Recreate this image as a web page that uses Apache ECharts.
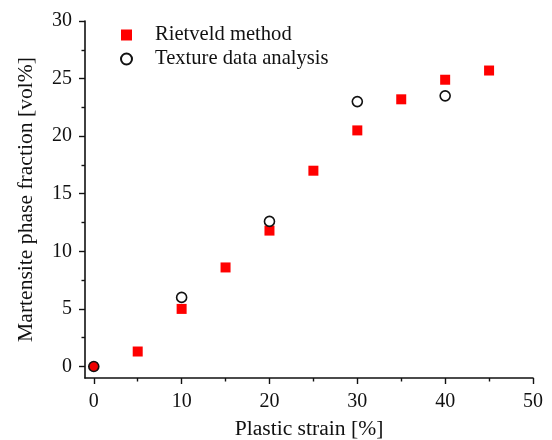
<!DOCTYPE html>
<html>
<head>
<meta charset="utf-8">
<script src="https://cdn.jsdelivr.net/npm/echarts@6/dist/echarts.min.js"></script>
<style>
  html, body { margin: 0; padding: 0; background: #fff; }
  #chart { width: 552px; height: 440px; }
</style>
</head>
<body>
<div id="chart"></div>
<script>
// Martensite phase fraction vs. plastic strain
const rietveldStrain = [0, 5, 10, 15, 20, 25, 30, 35, 40, 45];
const rietveldFraction = [0, 1.3, 5.0, 8.6, 11.8, 17.0, 20.5, 23.2, 24.9, 25.7];
const textureStrain = [0, 10, 20, 30, 40];
const textureFraction = [0, 6.0, 12.6, 23.0, 23.5];

const FONT = "'Liberation Serif', 'Times New Roman', serif";
const INK = '#111';

// Plot frame: the axis lines start one unit below zero on both axes
const X_RANGE = [-1, 50], Y_RANGE = [-1, 30];
const FRAME = { left: 85, right: 19, top: 21, bottom: 62 };
const W = 552 - FRAME.left - FRAME.right, H = 440 - FRAME.top - FRAME.bottom;
const xUnit = W / (X_RANGE[1] - X_RANGE[0]);
const yUnit = H / (Y_RANGE[1] - Y_RANGE[0]);

const chart = echarts.init(document.getElementById('chart'), null, { renderer: 'canvas' });

const noDecor = {
  axisTick: { show: false }, axisLabel: { show: false },
  splitLine: { show: false }, minorTick: { show: false }
};
const lineStyle = { color: INK, width: 1.6 };
const tickStyle = { color: INK, width: 1.4 };
const labelStyle = { fontFamily: FONT, fontSize: 20, color: INK };
const legendTextStyle = { fontFamily: FONT, fontSize: 20.6, color: INK };
const nameStyle = { fontFamily: FONT, fontSize: 21.6, color: INK };

// Scale axes: start at zero, shifted onto the frame lines
function scaleAxis(grid, min, max, step, pos, offset, margin) {
  return {
    gridIndex: grid, type: 'value', position: pos, offset: offset,
    min: min, max: max, interval: step,
    axisLine: { show: false, onZero: false },
    axisTick: { show: true, inside: false, length: 6, lineStyle: tickStyle },
    minorTick: { show: true, splitNumber: 2, length: 3.5, lineStyle: tickStyle },
    axisLabel: Object.assign({ show: true, margin: margin }, labelStyle),
    splitLine: { show: false }, minorSplitLine: { show: false }
  };
}

const pairs = (xs, ys) => xs.map((x, i) => [x, ys[i]]);

chart.setOption({
  animation: false,
  backgroundColor: '#fff',
  grid: [
    Object.assign({ outerBoundsMode: 'none' }, FRAME),
    { left: FRAME.left + xUnit, right: FRAME.right, top: FRAME.top,
      bottom: FRAME.bottom + yUnit, outerBoundsMode: 'none' }
  ],
  legend: {
    orient: 'vertical', left: 120, top: 23, padding: 0,
    itemWidth: 11, itemHeight: 11, itemGap: 0,
    textStyle: Object.assign({ lineHeight: 24, padding: [0, 0, 0, 18] }, legendTextStyle),
    data: ['Rietveld method', 'Texture data analysis']
  },
  xAxis: [
    Object.assign({
      gridIndex: 0, type: 'value', position: 'bottom', min: X_RANGE[0], max: X_RANGE[1],
      name: 'Plastic strain [%]', nameLocation: 'middle', nameGap: 40, nameTextStyle: nameStyle,
      axisLine: { show: true, onZero: false, lineStyle: lineStyle }
    }, noDecor),
    scaleAxis(1, 0, 50, 10, 'bottom', yUnit, 14)
  ],
  yAxis: [
    Object.assign({
      gridIndex: 0, type: 'value', position: 'left', min: Y_RANGE[0], max: Y_RANGE[1],
      name: 'Martensite phase fraction [vol%]', nameLocation: 'middle', nameGap: 48,
      nameTextStyle: nameStyle,
      axisLine: { show: true, onZero: false, lineStyle: lineStyle }
    }, noDecor),
    scaleAxis(1, 0, 30, 5, 'left', xUnit, 13)
  ],
  series: [
    {
      name: 'Rietveld method', type: 'scatter', xAxisIndex: 0, yAxisIndex: 0,
      symbol: 'rect', symbolSize: 10,
      itemStyle: { color: '#ff0000', opacity: 1 },
      data: pairs(rietveldStrain, rietveldFraction).map((p, i) =>
        i === 0 ? { value: p, symbolSize: 8 } : p),
      z: 2
    },
    {
      name: 'Texture data analysis', type: 'scatter', xAxisIndex: 0, yAxisIndex: 0,
      symbol: 'circle', symbolSize: 10,
      itemStyle: { color: '#ffffff', borderColor: '#111', borderWidth: 1.6, opacity: 1 },
      data: pairs(textureStrain, textureFraction).map((p, i) =>
        i === 0 ? { value: p, itemStyle: { color: '#ee0000' } } : p),
      z: 3
    }
  ]
});
</script>
</body>
</html>
